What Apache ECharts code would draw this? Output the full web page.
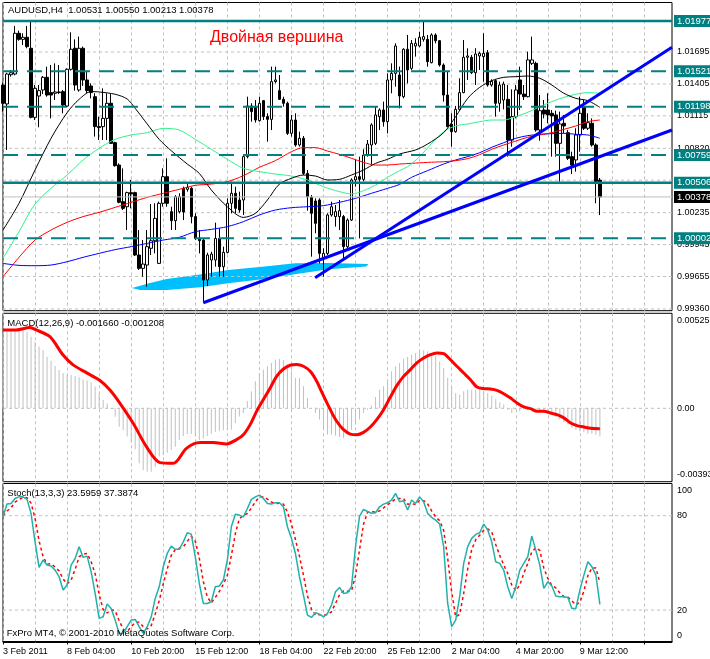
<!DOCTYPE html>
<html><head><meta charset="utf-8">
<script src="https://cdn.jsdelivr.net/npm/echarts@6/dist/echarts.min.js"></script>
<style>html,body{margin:0;padding:0;background:#fff}#c{width:710px;height:659px}</style>
</head><body><div id="c"></div>
<script>
const tickLabels = ['3 Feb 2011','8 Feb 04:00','10 Feb 20:00','15 Feb 12:00','18 Feb 04:00','22 Feb 20:00','25 Feb 12:00','2 Mar 04:00','4 Mar 20:00','9 Mar 12:00'];
const opens = [1.01395,1.01223,1.01489,1.01495,1.01865,1.01810,1.01829,1.01729,1.01101,1.01295,
 1.01350,1.01465,1.01326,1.01320,1.01332,1.01335,1.01204,1.01538,1.01729,1.01350,
 1.01729,1.01441,1.01386,1.01289,1.01017,1.01017,1.01092,1.01229,1.00871,1.00668,
 1.00335,1.00289,1.00417,1.00417,0.99850,0.99729,0.99759,0.99911,0.99980,0.99774,
 1.00320,1.00562,1.00244,1.00162,1.00244,1.00456,1.00447,1.00456,1.00199,1.00001,
 0.99986,0.99623,0.99805,0.99805,1.00001,0.99744,0.99874,1.00320,1.00411,1.00350,
 1.00350,1.00744,1.01205,1.01192,1.01071,1.01253,1.01108,1.01083,1.01426,1.01344,
 1.01265,1.01229,1.00956,1.01077,1.00850,1.00911,1.00592,1.00374,1.00341,1.00350,
 0.99820,0.99865,1.00214,1.00199,1.00199,1.00199,0.99926,1.00168,1.00532,1.00562,
 1.00538,1.00759,1.00850,1.00865,1.01108,1.01168,1.01062,1.01441,1.01501,1.01486,
 1.01289,1.01720,1.01547,1.01750,1.01750,1.01810,1.01810,1.01598,1.01850,1.01798,
 1.01577,1.01304,1.01038,1.00971,1.01174,1.01326,1.01647,1.01647,1.01507,1.01659,
 1.01653,1.01689,1.01395,1.01435,1.01229,1.01259,1.01265,1.00895,1.01108,1.01441,
 1.01313,1.01289,1.01592,1.01592,1.00986,1.01168,1.01168,1.01138,1.01123,1.00865,
 1.01047,1.00962,1.00744,1.00714,1.00941,1.01198,1.01002,1.01047,1.00850,1.00531];
const highs = [1.01417,1.01507,1.01532,1.01932,1.01889,1.01865,1.01932,1.01986,1.01395,1.01395,
 1.01477,1.01562,1.01577,1.01592,1.01577,1.01350,1.01547,1.01874,1.01810,1.01835,
 1.01744,1.01517,1.01410,1.01320,1.01108,1.01365,1.01320,1.01313,1.00880,1.00683,
 1.00638,1.00426,1.00532,1.00426,1.00077,0.99986,1.00077,1.00314,1.00320,1.00335,
 1.00638,1.00729,1.00289,1.00395,1.00411,1.00471,1.00495,1.00471,1.00229,1.00077,
 1.00001,0.99871,0.99880,1.00144,1.00093,0.99926,1.00365,1.00517,1.00471,1.00426,
 1.00759,1.01289,1.01229,1.01259,1.01289,1.01259,1.01138,1.01562,1.01562,1.01486,
 1.01289,1.01244,1.01123,1.01138,1.00971,1.00932,1.00623,1.00395,1.00365,1.00365,
 0.99911,1.00229,1.00335,1.00305,1.00350,1.00214,1.00183,1.00547,1.00714,1.00744,
 1.00811,1.00895,1.01047,1.01198,1.01183,1.01244,1.01501,1.01592,1.01774,1.01562,
 1.01729,1.01850,1.01804,1.01820,1.01880,1.01986,1.01850,1.01865,1.01865,1.01804,
 1.01592,1.01517,1.01138,1.01205,1.01456,1.01804,1.01729,1.01668,1.01729,1.01698,
 1.01865,1.01713,1.01447,1.01447,1.01426,1.01426,1.01395,1.01356,1.01395,1.01562,
 1.01395,1.01698,1.01835,1.01607,1.01304,1.01259,1.01320,1.01168,1.01162,1.01153,
 1.01123,1.00986,1.00789,1.01002,1.01289,1.01259,1.01138,1.01092,1.00865,1.00550];
const lows = [1.01153,1.00805,1.01471,1.01483,1.01798,1.01759,1.01729,1.01092,1.01077,1.01011,
 1.01313,1.01289,1.01092,1.01259,1.01313,1.01138,1.01192,1.01526,1.01344,1.01335,
 1.01386,1.01320,1.01274,1.00926,1.00895,1.00895,1.00895,1.00859,1.00653,1.00320,
 1.00259,1.00077,1.00274,0.99841,0.99714,0.99653,0.99562,0.99850,0.99865,0.99768,
 1.00289,1.00289,1.00077,1.00077,1.00229,1.00168,1.00426,1.00138,0.99986,0.99865,
 0.99417,0.99568,0.99653,0.99744,0.99653,0.99653,0.99865,1.00229,1.00229,1.00235,
 1.00214,1.00729,1.01062,1.01053,1.01062,1.01077,1.00880,1.00986,1.01410,1.01259,
 1.01198,1.00941,1.00926,1.00835,1.00835,1.00577,1.00253,0.99835,1.00047,0.99774,
 0.99653,0.99850,1.00199,1.00108,1.00077,0.99805,0.99890,1.00160,1.00471,1.00001,
 1.00520,1.00744,1.00668,1.00850,1.00986,1.01017,1.00956,1.01320,1.01380,1.01183,
 1.01274,1.01410,1.01532,1.01653,1.01738,1.01789,1.01562,1.01592,1.01774,1.01562,
 1.01244,1.01011,1.00835,1.00962,1.01162,1.01320,1.01441,1.01495,1.01395,1.01532,
 1.01426,1.01380,1.01380,1.01108,1.01153,1.01174,1.00744,1.00835,1.01092,1.01168,
 1.01259,1.01283,1.01577,1.00971,1.00889,1.01092,1.01047,1.00744,1.00744,1.00517,
 1.00956,1.00714,1.00586,1.00608,1.00789,1.00986,1.00986,1.00835,1.00320,1.00213];
const closes = [1.01229,1.01495,1.01507,1.01865,1.01810,1.01829,1.01744,1.01101,1.01365,1.01344,
 1.01465,1.01304,1.01304,1.01332,1.01326,1.01213,1.01538,1.01720,1.01395,1.01729,
 1.01441,1.01344,1.01326,1.01017,1.01008,1.01092,1.01229,1.00865,1.00662,1.00329,
 1.00274,1.00417,1.00405,0.99850,0.99729,0.99768,0.99926,0.99980,1.00183,1.00320,
 1.00562,1.00320,1.00162,1.00380,1.00380,1.00241,1.00465,1.00199,1.00001,0.99980,
 0.99623,0.99850,0.99859,1.00001,0.99744,0.99874,1.00320,1.00411,1.00274,1.00259,
 1.00744,1.01205,1.01153,1.01077,1.01229,1.01108,1.01083,1.01426,1.01441,1.01265,
 1.01229,1.00956,1.01077,1.00850,1.00911,1.00592,1.00380,1.00229,1.00138,0.99865,
 0.99865,1.00214,1.00289,1.00244,1.00253,0.99926,1.00168,1.00532,1.00562,1.00538,
 1.00759,1.00859,1.01032,1.01123,1.01168,1.01062,1.01441,1.01501,1.01750,1.01295,
 1.01720,1.01532,1.01774,1.01774,1.01829,1.01835,1.01607,1.01850,1.01798,1.01577,
 1.01304,1.01017,1.00971,1.01174,1.01326,1.01647,1.01659,1.01507,1.01677,1.01683,
 1.01683,1.01395,1.01429,1.01229,1.01395,1.01404,1.00895,1.01108,1.01350,1.01313,
 1.01289,1.01623,1.01623,1.00986,1.01162,1.01132,1.01123,1.01114,1.00865,1.01041,
 1.01023,1.00729,1.00668,1.00941,1.01138,1.01002,1.01053,1.00850,1.00517,1.00378];

const maBlack = [[0,1.00077],[4,1.00320],[8,1.00623],[12,1.00911],[16,1.01144],[19,1.01265],[22,1.01335],[24,1.01332],[28,1.01311],[31,1.01268],[33,1.01183],[36,1.01041],[39,1.00901],[42,1.00798],[46,1.00677],[49,1.00592],[52,1.00441],[56,1.00289],[60,1.00192],[63,1.00229],[66,1.00350],[69,1.00495],[72,1.00547],[75,1.00577],[78,1.00568],[81,1.00532],[84,1.00538],[87,1.00577],[90,1.00623],[93,1.00683],[96,1.00720],[99,1.00768],[103,1.00805],[106,1.00859],[110,1.00962],[113,1.01108],[116,1.01274],[119,1.01374],[122,1.01435],[125,1.01465],[128,1.01471],[131,1.01477],[134,1.01456],[137,1.01395],[140,1.01320],[143,1.01274],[146,1.01253],[149,1.01192]];
const maGreen = [[0,0.99820],[4,1.00062],[8,1.00314],[12,1.00456],[16,1.00577],[20,1.00714],[24,1.00820],[28,1.00901],[32,1.00941],[36,1.00962],[40,1.01001],[44,1.00986],[48,1.00901],[52,1.00811],[56,1.00720],[60,1.00638],[64,1.00608],[68,1.00586],[72,1.00568],[76,1.00532],[80,1.00471],[84,1.00426],[87,1.00405],[90,1.00435],[93,1.00486],[96,1.00556],[99,1.00617],[101,1.00653],[104,1.00744],[107,1.00865],[110,1.00971],[113,1.01023],[116,1.01041],[119,1.01062],[122,1.01077],[125,1.01077],[128,1.01108],[131,1.01147],[134,1.01198],[137,1.01244],[140,1.01283],[143,1.01311],[146,1.01326],[149,1.01320]];
const maRed = [[0,0.99653],[4,0.99829],[8,0.99986],[12,1.00077],[16,1.00147],[20,1.00199],[24,1.00238],[28,1.00283],[32,1.00329],[36,1.00374],[40,1.00411],[44,1.00447],[48,1.00483],[52,1.00495],[56,1.00517],[60,1.00571],[64,1.00647],[68,1.00708],[72,1.00789],[75,1.00826],[78,1.00826],[81,1.00795],[84,1.00765],[87,1.00729],[90,1.00692],[93,1.00668],[96,1.00668],[99,1.00677],[102,1.00683],[106,1.00692],[110,1.00698],[113,1.00708],[116,1.00726],[119,1.00762],[122,1.00811],[125,1.00850],[128,1.00886],[131,1.00920],[134,1.00941],[137,1.00962],[140,1.00992],[143,1.01023],[146,1.01062],[149,1.01077]];
const maBlue = [[0,0.99774],[4,0.99756],[8,0.99753],[12,0.99759],[16,0.99789],[20,0.99829],[24,0.99865],[28,0.99899],[32,0.99926],[36,0.99956],[40,0.99986],[44,1.00011],[48,1.00062],[52,1.00083],[56,1.00108],[60,1.00153],[64,1.00214],[68,1.00259],[72,1.00280],[76,1.00289],[80,1.00299],[84,1.00329],[88,1.00365],[92,1.00411],[96,1.00456],[99,1.00492],[102,1.00556],[106,1.00617],[110,1.00677],[113,1.00714],[116,1.00744],[119,1.00780],[122,1.00829],[125,1.00871],[128,1.00911],[131,1.00935],[134,1.00947],[137,1.00953],[140,1.00956],[143,1.00947],[146,1.00941],[149,1.00911]];
const trendA = [[50,0.99416],[167,1.00986]];
const trendB = [[77.9,0.99644],[167,1.01739]];
const blob = [[32.2,0.99550],[36.7,0.99595],[40.9,0.99632],[49.2,0.99673],[56.2,0.99714],[64.7,0.99744],[72.9,0.99775],[81.2,0.99777],[91.2,0.99768],[90.7,0.99745],[81.2,0.99720],[72.9,0.99675],[64.7,0.99629],[56.2,0.99593],[49.2,0.99556],[40.9,0.99532],[34.2,0.99532]];
const priceTicks = ['0.99360','0.99655','0.99945','1.00235','1.00530','1.00820','1.01115','1.01405','1.01695'];
const levelValues = [1.01977,1.01521,1.01198,1.00759,1.00506,1.00002];
const levelSolid = [true,false,false,false,true,false];
const bidPrice = 1.00378;

const macdHist = [0.00446,0.00456,0.00466,0.00470,0.00476,0.00470,0.00456,0.00426,0.00396,0.00367,
 0.00347,0.00307,0.00283,0.00252,0.00228,0.00208,0.00198,0.00198,0.00192,0.00184,
 0.00172,0.00165,0.00153,0.00129,0.00089,0.00050,0.00030,-0.00006,-0.00050,-0.00109,
 -0.00129,-0.00168,-0.00204,-0.00244,-0.00327,-0.00367,-0.00377,-0.00377,-0.00347,-0.00287,
 -0.00277,-0.00264,-0.00248,-0.00228,-0.00188,-0.00165,-0.00153,-0.00153,-0.00168,-0.00188,
 -0.00180,-0.00165,-0.00150,-0.00140,-0.00135,-0.00130,-0.00128,-0.00127,-0.00087,-0.00048,
 -0.00028,0.00042,0.00101,0.00161,0.00210,0.00230,0.00250,0.00270,0.00289,0.00293,
 0.00289,0.00260,0.00220,0.00180,0.00180,0.00131,0.00061,-0.00002,-0.00028,-0.00067,
 -0.00127,-0.00157,-0.00157,-0.00163,-0.00170,-0.00176,-0.00157,-0.00127,-0.00097,-0.00067,
 -0.00028,-0.00008,0.00016,0.00067,0.00111,0.00131,0.00170,0.00220,0.00250,0.00270,
 0.00293,0.00305,0.00319,0.00329,0.00339,0.00345,0.00339,0.00329,0.00309,0.00279,
 0.00240,0.00180,0.00131,0.00091,0.00081,0.00101,0.00111,0.00111,0.00111,0.00111,
 0.00101,0.00091,0.00075,0.00055,0.00036,0.00022,-0.00008,-0.00028,-0.00008,-0.00018,
 -0.00008,-0.00008,-0.00018,-0.00018,-0.00024,-0.00028,-0.00032,-0.00038,-0.00052,-0.00067,
 -0.00083,-0.00097,-0.00117,-0.00127,-0.00137,-0.00143,-0.00151,-0.00151,-0.00157,-0.00166];
const macdSignal = [[0,0.00466],[3.3,0.00466],[6.7,0.00480],[8.3,0.00466],[11.7,0.00426],[15,0.00317],[17.5,0.00258],[20.8,0.00212],[24.2,0.00165],[26.7,0.00109],[29.2,0.00030],[32.5,-0.00089],[35.8,-0.00228],[39.2,-0.00323],[42.5,-0.00327],[45.8,-0.00238],[49.2,-0.00204],[52.5,-0.00204],[55.8,-0.00212],[58.3,-0.00186],[60,-0.00157],[61.7,-0.00097],[63.3,-0.00018],[65,0.00052],[66.7,0.00121],[68.3,0.00190],[70,0.00234],[71.7,0.00256],[73.3,0.00260],[75,0.00250],[76.7,0.00220],[78.3,0.00161],[80,0.00075],[81.7,-0.00008],[83.3,-0.00077],[85,-0.00127],[86.7,-0.00153],[88.3,-0.00157],[90,-0.00143],[91.7,-0.00111],[93.3,-0.00067],[95,-0.00008],[96.7,0.00067],[98.3,0.00135],[100,0.00190],[101.7,0.00230],[103.3,0.00270],[105,0.00299],[106.7,0.00319],[108.3,0.00329],[110,0.00325],[111.7,0.00289],[113.3,0.00250],[115,0.00210],[116.7,0.00170],[118.3,0.00127],[120,0.00117],[121.7,0.00115],[123.3,0.00107],[125,0.00087],[126.7,0.00061],[128.3,0.00032],[130,0.00008],[131.7,-0.00002],[133.3,-0.00018],[135,-0.00018],[136.7,-0.00028],[138.3,-0.00038],[140,-0.00057],[141.7,-0.00087],[143.3,-0.00103],[145,-0.00111],[146.7,-0.00119],[149,-0.001208]];
const macdTicks = [['0.00525',0.00525],['0.00',0],['-0.00393',-0.00393]];

const stochMain = [79.3,87.4,87.8,91.0,92.0,92.0,90.4,81.5,63.4,47.1,
 51.8,48.6,48.0,45.4,41.2,32.7,35.9,48.6,52.8,60.3,
 53.5,54.3,44.4,30.6,14.7,15.7,23.8,21.0,13.6,5.1,
 5.1,9.4,13.6,14.0,9.4,5.1,9.4,15.7,27.4,34.8,
 47.5,56.0,60.7,58.6,58.6,63.4,69.2,68.3,53.9,36.9,
 24.2,24.2,25.3,34.8,35.3,39.1,51.8,73.0,81.0,80.4,
 79.3,84.6,90.4,92.0,93.1,91.0,87.8,87.4,88.3,88.3,
 85.7,73.0,65.6,56.0,41.2,29.5,16.8,15.3,18.3,17.4,
 15.7,17.9,23.2,31.6,34.4,30.6,31.0,34.8,60.3,79.8,
 84.0,82.7,81.6,81.9,85.7,87.4,88.3,90.0,94.2,88.9,
 89.5,83.6,90.0,87.8,92.0,88.9,81.5,78.9,77.2,74.7,
 60.3,24.2,9.4,13.6,28.5,49.7,60.3,65.6,68.1,69.2,
 74.7,70.9,63.4,50.7,49.7,45.4,34.8,27.4,34.8,45.4,
 49.7,53.9,67.0,58.1,48.6,33.8,38.0,35.3,28.9,28.5,
 28.5,28.0,21.0,21.0,32.7,42.2,50.7,47.5,42.2,23.6];
const stochSignal = [80,83,85,88.7,90.3,91.7,91.5,88.0,78.4,64.0,
 54.1,49.2,49.5,47.3,44.9,39.8,36.6,39.1,45.8,53.9,
 55.5,56.0,50.7,43.1,29.9,20.3,18.1,20.2,19.5,13.2,
 7.9,6.5,9.4,12.3,12.3,9.5,8.0,10.1,17.5,26.0,
 36.6,46.1,54.7,58.4,59.3,60.2,63.7,67.0,63.8,53.0,
 38.3,28.4,24.6,28.1,31.8,36.4,42.1,54.6,68.6,78.1,
 80.2,81.4,84.8,89.0,91.8,92.0,90.6,88.7,87.8,88.0,
 87.4,82.3,74.8,64.9,54.3,42.2,29.2,20.5,16.8,17.0,
 17.1,17.0,18.9,24.2,29.7,32.2,32.0,32.1,42.0,58.3,
 74.7,82.2,82.8,82.1,83.1,85.0,87.1,88.6,90.8,91.0,
 90.9,87.3,87.7,87.1,89.9,89.6,87.5,83.1,79.2,76.9,
 70.7,53.1,31.3,15.7,17.2,30.6,46.2,58.5,64.7,67.6,
 70.7,71.6,69.7,61.7,54.6,48.6,43.3,35.9,32.3,35.9,
 43.3,49.7,56.9,59.7,57.9,46.8,40.1,35.7,34.1,30.9,
 28.6,28.3,25.8,23.3,24.9,32.0,41.9,46.8,46.8,37.4];
const stochTicks = [['100',96],['80',80],['20',20],['0',3.9]];

const N = 168;
const cats = Array.from({length:N},(_,i)=>i);
const FONT = '"Liberation Sans", Arial, sans-serif';
const candles = opens.map((o,i)=>[o, closes[i], lows[i], highs[i]]);
const GRID_LINE = {color:'#c0c0c0', type:[3,3], width:1};
const NOLINE = {color:'rgba(0,0,0,0)', width:1};

function catAxis(g, labels){
  return {type:'category', gridIndex:g, data:cats, boundaryGap:false,
    axisLine:{show:labels, lineStyle:{color:'#000'}},
    axisTick:{show:labels, interval:15, length:3, lineStyle:{color:'#000'}},
    axisLabel:{show:labels, interval:15, align:'left', margin:5, fontSize:9, color:'#000', fontFamily:FONT,
      formatter:(v,i)=> tickLabels[i/16] || ''},
    splitLine:{show:true, interval:7, lineStyle:GRID_LINE}};
}
function valAxis(g){ return {type:'value', gridIndex:g, min:0, max:N-1, show:false}; }
const gridBase = {show:true, borderColor:'#000', borderWidth:1, backgroundColor:'transparent', outerBoundsMode:'none', containLabel:false};

// horizontal line across a panel, with its text at the right end
function hline(panel, value, lineStyle, text, boxColor, z){
  const label = boxColor
    ? {show:true, formatter:text, distance:2, color:'#fff', backgroundColor:boxColor, padding:[1,3,0,3], lineHeight:11, fontSize:9.5, fontFamily:FONT}
    : {show:true, formatter:text, distance:5, color:'#000', fontSize:9, fontFamily:FONT};
  return {type:'line', xAxisIndex:panel*2+1, yAxisIndex:panel, z:z, silent:true, showSymbol:false, symbol:'none',
    data:[[0,value],[N-1,value]], lineStyle:lineStyle, endLabel:label, emphasis:{disabled:true}, labelLayout:{hideOverlap:false}};
}

const series = [];
// grid lines and tick labels
priceTicks.forEach(t=>series.push(hline(0, parseFloat(t), GRID_LINE, t, null, 1)));
macdTicks.forEach(t=>series.push(hline(1, t[1], t[1]===0 ? GRID_LINE : NOLINE, t[0], null, 1)));
stochTicks.forEach(t=>series.push(hline(2, t[1], (t[0]==='80'||t[0]==='20') ? GRID_LINE : NOLINE, t[0], null, 1)));

series.push({type:'custom', xAxisIndex:1, yAxisIndex:0, z:1, silent:true, data:[[0,0]],
  renderItem:(params, api)=>({type:'polygon', shape:{points: blob.map(p=>api.coord(p))}, style:{fill:'#00bfff'}})});
series.push({type:'candlestick', xAxisIndex:0, yAxisIndex:0, z:2, barWidth:3, data:candles, silent:true,
  itemStyle:{color:'#fff', color0:'#000', borderColor:'#000', borderColor0:'#000', borderWidth:1}});
[[maBlue,'#0000ff'],[maRed,'#ff0000'],[maGreen,'#33f08c'],[maBlack,'#000000']].forEach(m=>series.push(
  {type:'line', xAxisIndex:1, yAxisIndex:0, z:3, data:m[0], showSymbol:false, smooth:0.3, silent:true, lineStyle:{color:m[1], width:1}}));
// current price and horizontal levels
series.push(hline(0, bidPrice, {color:'#c0c0c0', width:1}, bidPrice.toFixed(5), '#000', 4));
levelValues.forEach((v,i)=>series.push(hline(0, v,
  levelSolid[i] ? {color:'#008080', width:2.5} : {color:'#008080', type:[15,9], width:2},
  v.toFixed(5), '#008080', 4)));
series.push({type:'line', xAxisIndex:1, yAxisIndex:0, z:5, data:trendA, showSymbol:false, silent:true, lineStyle:{color:'#0000ff', width:3}});
series.push({type:'line', xAxisIndex:1, yAxisIndex:0, z:5, data:trendB, showSymbol:false, silent:true, lineStyle:{color:'#0000ff', width:3}});
// MACD
series.push({type:'bar', xAxisIndex:2, yAxisIndex:1, z:2, barWidth:1, data:macdHist, silent:true, itemStyle:{color:'#c0c0c0'}});
series.push({type:'line', xAxisIndex:3, yAxisIndex:1, z:3, data:macdSignal, showSymbol:false, smooth:0.3, silent:true, lineStyle:{color:'#ff0000', width:3}});
// Stochastic
series.push({type:'line', xAxisIndex:4, yAxisIndex:2, z:3, data:stochSignal, showSymbol:false, silent:true, lineStyle:{color:'#ff0000', width:1.5, type:[3,3]}});
series.push({type:'line', xAxisIndex:4, yAxisIndex:2, z:4, data:stochMain, showSymbol:false, silent:true, lineStyle:{color:'#20b2aa', width:1.5}});

const option = {
  animation:false,
  backgroundColor:'#fff',
  grid:[
    Object.assign({left:3, top:2.5, width:669, height:308.2}, gridBase),
    Object.assign({left:3, top:313.3, width:669, height:168.4}, gridBase),
    Object.assign({left:3, top:483.5, width:669, height:159}, gridBase)
  ],
  xAxis:[catAxis(0,false), valAxis(0), catAxis(1,false), valAxis(1), catAxis(2,true), valAxis(2)],
  yAxis:[
    {gridIndex:0, type:'value', min:0.99344, max:1.02145, show:false},
    {gridIndex:1, type:'value', min:-0.004364, max:0.00565, show:false},
    {gridIndex:2, type:'value', min:-0.64, max:100.5, show:false}
  ],
  series:series,
  graphic:[
    {type:'text', x:8, y:10.7, z:10, style:{text:'AUDUSD,H4  1.00531 1.00550 1.00213 1.00378', fill:'#000', font:'9.5px '+FONT, verticalAlign:'middle'}},
    {type:'text', x:210, y:37.5, z:10, style:{text:'Двойная вершина', fill:'#ff0000', font:'16px '+FONT, verticalAlign:'middle'}},
    {type:'text', x:7.3, y:323.7, z:10, style:{text:'MACD(12,26,9) -0.001660 -0.001208', fill:'#000', font:'9.5px '+FONT, verticalAlign:'middle'}},
    {type:'text', x:7.3, y:493.7, z:10, style:{text:'Stoch(13,3,3) 23.5959 37.3874', fill:'#000', font:'9.5px '+FONT, verticalAlign:'middle'}},
    {type:'text', x:6.7, y:633.7, z:10, style:{text:'FxPro MT4, © 2001-2010 MetaQuotes Software Corp.', fill:'#000', font:'9.5px '+FONT, verticalAlign:'middle'}}
  ]
};
const chart = echarts.init(document.getElementById('c'), null, {renderer:'canvas'});
chart.setOption(option);
</script>
</body></html>
